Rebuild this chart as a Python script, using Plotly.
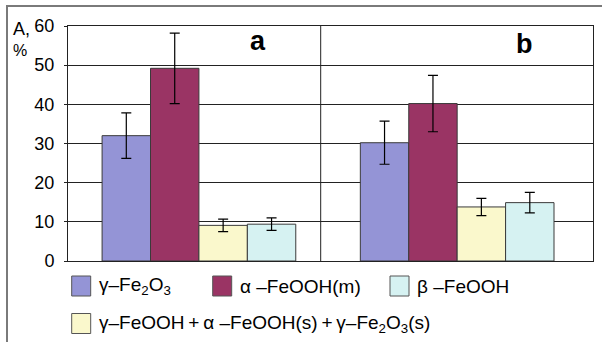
import plotly.graph_objects as go

# ---------------- data ----------------
panels = ["a", "b"]
series_names = [
    "γ–Fe<sub>2</sub>O<sub>3</sub>",
    "α –FeOOH(m)",
    "γ–FeOOH\u2009+\u2009α –FeOOH(s)\u2009+\u2009γ–Fe<sub>2</sub>O<sub>3</sub>(s)",
    "β –FeOOH",
]
gamma_fe2o3 = [32.0, 30.2]
gamma_fe2o3_err = [5.8, 5.5]
alpha_feooh_m = [49.2, 40.2]
alpha_feooh_m_err = [9.0, 7.2]
mixed_phase = [9.1, 13.8]
mixed_phase_err = [1.6, 2.2]
beta_feooh = [9.4, 14.9]
beta_feooh_err = [1.6, 2.6]
y_ticks = [0, 10, 20, 30, 40, 50, 60]

series_values = [gamma_fe2o3, alpha_feooh_m, mixed_phase, beta_feooh]
series_errors = [gamma_fe2o3_err, alpha_feooh_m_err, mixed_phase_err, beta_feooh_err]
colors = ["#9494D6", "#9A3464", "#FAF8CC", "#D6F2F2"]

# ---------------- geometry helpers (pixels -> paper) ----------------
W, H = 602, 342
L, R, T, B = 68, 9, 26, 81
PW, PH = W - L - R, H - T - B


def px(x):
    return (x - L) / PW


def py(y):
    return (H - B - y) / PH


FONT = "Liberation Sans, Arial, sans-serif"

fig = go.Figure()
for name, vals, errs, col in zip(series_names, series_values, series_errors, colors):
    fig.add_trace(go.Bar(
        x=panels, y=vals, name=name,
        marker=dict(color=col, line=dict(color="#3a3a3a", width=1)),
        error_y=dict(type="data", array=errs, color="black", thickness=1.2, width=5),
    ))

fig.update_layout(
    width=W, height=H,
    margin=dict(l=L, r=R, t=T, b=B, pad=0),
    paper_bgcolor="white", plot_bgcolor="white",
    barmode="group", bargap=0.25, bargroupgap=0,
    showlegend=False,
    font=dict(family=FONT, size=18, color="black"),
)
fig.update_xaxes(
    type="category", range=[-0.507, 1.526],
    showticklabels=False, showgrid=False, ticks="",
    showline=True, mirror=True, linecolor="#222", linewidth=1,
)
fig.update_yaxes(
    range=[0, 60], tickvals=y_ticks, ticks="outside", ticklen=3,
    tickcolor="#222", ticklabelstandoff=6,
    showgrid=True, gridcolor="#222", gridwidth=1,
    showline=True, mirror=True, linecolor="#222", linewidth=1,
    zeroline=False,
    tickfont=dict(family=FONT, size=18, color="black"),
)

shapes = []
# panel divider
shapes.append(dict(type="line", xref="paper", yref="paper",
                   x0=px(320.7), x1=px(320.7), y0=0, y1=1,
                   line=dict(color="#222", width=1)))
# outer chart border
shapes.append(dict(type="rect", xref="paper", yref="paper",
                   x0=px(7), x1=px(640), y0=py(400), y1=py(6),
                   line=dict(color="#7a7a7a", width=2), layer="below"))

annotations = []
# axis title
annotations.append(dict(text="A,", xref="paper", yref="paper", x=px(11), y=py(29),
                        xanchor="left", yanchor="middle", showarrow=False,
                        font=dict(family=FONT, size=18)))
annotations.append(dict(text="%", xref="paper", yref="paper", x=px(11), y=py(50),
                        xanchor="left", yanchor="middle", showarrow=False,
                        font=dict(family=FONT, size=16)))
# panel labels
annotations.append(dict(text="<b>a</b>", xref="paper", yref="paper", x=px(258), y=py(41),
                        xanchor="center", yanchor="middle", showarrow=False,
                        font=dict(family=FONT, size=27)))
annotations.append(dict(text="<b>b</b>", xref="paper", yref="paper", x=px(524), y=py(44),
                        xanchor="center", yanchor="middle", showarrow=False,
                        font=dict(family=FONT, size=27)))

# manual legend: (series index, box left px, row center px)
legend_slots = [(0, 71.7, 286), (1, 212.7, 286), (3, 390, 286), (2, 71.7, 323.5)]
for idx, bx, cy in legend_slots:
    shapes.append(dict(type="rect", xref="paper", yref="paper",
                       x0=px(bx), x1=px(bx + 19), y0=py(cy + 10), y1=py(cy - 10),
                       fillcolor=colors[idx], line=dict(color="#555", width=1)))
    annotations.append(dict(text=series_names[idx], xref="paper", yref="paper",
                            x=px(bx + 25), y=py(cy), xanchor="left", yanchor="middle",
                            showarrow=False, font=dict(family=FONT, size=19)))

fig.update_layout(shapes=shapes, annotations=annotations)
fig.write_html("out.html", config={"displayModeBar": False},
               post_script="document.body.style.margin='0';")
